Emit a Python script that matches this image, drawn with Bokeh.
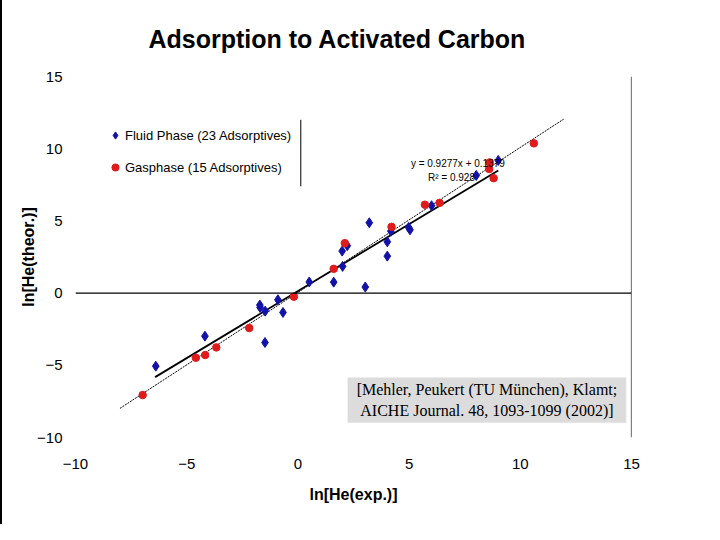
from bokeh.plotting import figure
from bokeh.models import Range1d, Label, Legend, LegendItem, FixedTicker, Span, Title
from bokeh.embed import file_html
from bokeh.resources import INLINE

# ---- data ----
fluid_x = [-6.39, -4.18, -1.71, -1.70, -1.47, -1.48, -0.90, -0.67, 0.51, 1.61, 2.01, 1.99,
           2.22, 3.03, 3.21, 4.02, 4.02, 4.18, 4.98, 5.04, 6.01, 8.02, 9.01]
fluid_y = [-5.06, -2.98, -0.83, -0.99, -1.25, -3.42, -0.46, -1.34, 0.77, 0.76, 1.85, 2.91,
           3.28, 0.42, 4.87, 3.55, 2.56, 4.29, 4.55, 4.38, 6.05, 8.15, 9.19]
gas_x = [-6.98, -4.59, -4.17, -3.67, -2.19, -0.18, 1.61, 2.11, 4.21, 5.71, 6.37, 8.62, 8.60, 8.80, 10.61]
gas_y = [-7.06, -4.48, -4.29, -3.76, -2.42, -0.25, 1.68, 3.46, 4.59, 6.12, 6.25, 9.05, 8.59, 7.96, 10.37]

fit_fluid_slope, fit_fluid_icpt = 0.9277, 0.1379
fit_fluid_xrange = [-6.42, 9.01]
fit_gas_slope, fit_gas_icpt = 1.004, 0.05
fit_gas_xrange = [-8.0, 11.95]

ticks = [-10, -5, 0, 5, 10, 15]
title_text = "Adsorption to Activated Carbon"
x_label = "ln[He(exp.)]"
y_label = "ln[He(theor.)]"
legend_fluid = "Fluid Phase (23 Adsorptives)"
legend_gas = "Gasphase (15 Adsorptives)"
eq_text = "y = 0.9277x + 0.1379"
r2_text = "R² = 0.928"
citation = "[Mehler, Peukert (TU München), Klamt;\nAICHE Journal. 48, 1093-1099 (2002)]"

BLUE = "#1212a8"
RED = "#e01b1b"
FONT = "Liberation Sans"

p = figure(width=704, height=524, output_backend="svg", toolbar_location=None,
           x_range=Range1d(-10, 15), y_range=Range1d(-10, 15),
           min_border_left=73, min_border_right=75, min_border_top=76, min_border_bottom=87,
           outline_line_color=None)
p.grid.visible = False
p.background_fill_color = "white"
p.styles = {"border-left": "2px solid black"}

p.title = Title(text=title_text, align="left", offset=73, standoff=45,
                vertical_align="middle",
                text_font=FONT, text_font_size="25px", text_font_style="bold",
                text_color="black")

for ax in (p.xaxis[0], p.yaxis[0]):
    ax.ticker = FixedTicker(ticks=ticks)
    ax.axis_line_color = None
    ax.major_tick_line_color = None
    ax.minor_tick_line_color = None
    ax.major_label_text_font = FONT
    ax.major_label_text_font_size = "15px"
    ax.major_label_text_color = "black"
    ax.axis_label_text_font = FONT
    ax.axis_label_text_font_size = "16px"
    ax.axis_label_text_font_style = "bold"
    ax.axis_label_text_color = "black"

p.xaxis.axis_label = x_label
p.yaxis.axis_label = y_label
p.xaxis.major_label_standoff = 15
p.xaxis.axis_label_standoff = 14
p.yaxis.major_label_standoff = 7
p.yaxis.axis_label_standoff = -3
p.yaxis.major_label_orientation = "horizontal"

# zero line (x axis crossing) and value axis at x = 15
p.add_layout(Span(location=0, dimension="width", line_color="black", line_width=1.2))
p.add_layout(Span(location=15, dimension="height", line_color="black", line_width=1.2))

# legend right border
p.line([0.13, 0.13], [12.0, 7.4], line_color="black", line_width=1)

# trend lines
gx = fit_gas_xrange
p.line(gx, [fit_gas_slope * v + fit_gas_icpt for v in gx], line_color="black",
       line_width=1, line_dash="2 1")
fx = fit_fluid_xrange
p.line(fx, [fit_fluid_slope * v + fit_fluid_icpt for v in fx], line_color="black",
       line_width=1.8)

r_fluid = p.scatter(fluid_x, fluid_y, marker="diamond", size=10, fill_color=BLUE,
                    line_color=BLUE)
r_gas = p.scatter(gas_x, gas_y, marker="circle", size=7.5, fill_color=RED, line_color=RED)

legend = Legend(items=[LegendItem(label=legend_fluid, renderers=[r_fluid]),
                       LegendItem(label=legend_gas, renderers=[r_gas])],
                location=(31, 261), orientation="vertical",
                glyph_width=18, glyph_height=18, label_height=18, label_standoff=1,
                spacing=14, padding=0, margin=0,
                background_fill_alpha=0, border_line_alpha=0,
                label_text_font=FONT, label_text_font_size="13px", label_text_color="black")
p.add_layout(legend)

p.add_layout(Label(x=5.08, y=9.0, text=eq_text, text_font=FONT, text_font_size="10px",
                   text_baseline="middle", text_align="left", text_color="black"))
p.add_layout(Label(x=5.85, y=8.03, text=r2_text, text_font=FONT, text_font_size="10px",
                   text_baseline="middle", text_align="left", text_color="black"))

p.add_layout(Label(x=8.5, y=-7.41, text=citation, text_font="Liberation Serif",
                   text_font_size="16px", text_align="center", text_baseline="middle",
                   text_color="black", background_fill_color="#dcdcdc",
                   padding=dict(left=9, right=9, top=4, bottom=4)))

open("out.html", "w").write(file_html(p, INLINE))
